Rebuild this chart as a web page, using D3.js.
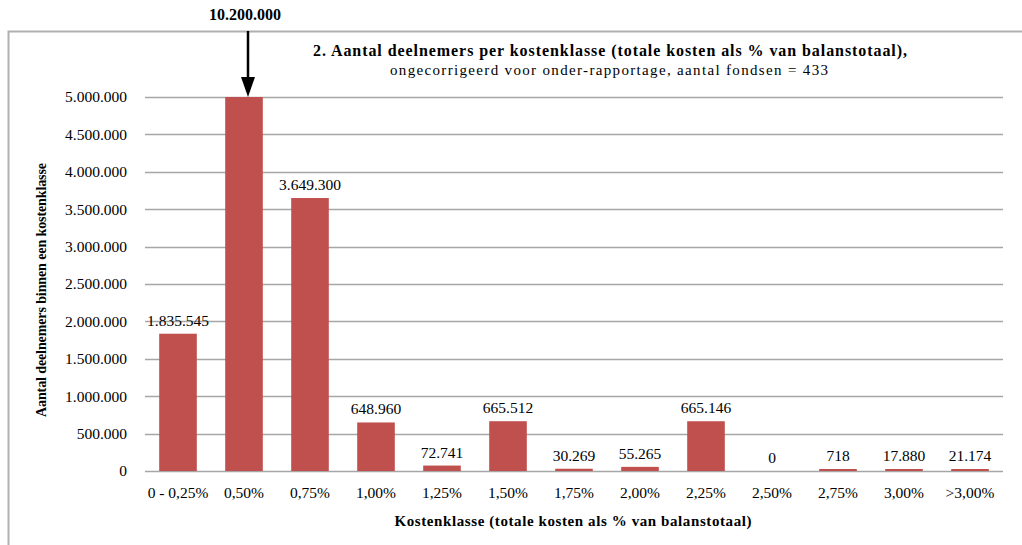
<!DOCTYPE html>
<html>
<head>
<meta charset="utf-8">
<script src="https://cdn.jsdelivr.net/npm/d3@7"></script>
<style>
  body { margin: 0; background: #fff; }
</style>
</head>
<body>
<div id="chart"></div>
<script>
// categories and values
const klassen = ['0 - 0,25%', '0,50%', '0,75%', '1,00%', '1,25%', '1,50%', '1,75%', '2,00%', '2,25%', '2,50%', '2,75%', '3,00%', '>3,00%'];
const deelnemers = [1835545, 10200000, 3649300, 648960, 72741, 665512, 30269, 55265, 665146, 0, 718, 17880, 21174];
const yTicks = [0, 500000, 1000000, 1500000, 2000000, 2500000, 3000000, 3500000, 4000000, 4500000, 5000000];
const yMax = 5000000;

const FONT = 'Liberation Serif';
const W = 1022, H = 545;
const margin = {t: 97, r: 19, b: 74, l: 145};
const w = W - margin.l - margin.r;
const h = H - margin.t - margin.b;

const fmt = v => d3.format(',')(v).replace(/,/g, '.');
const rows = klassen.map((k, i) => ({k, v: deelnemers[i]}));

const svg = d3.select('#chart').append('svg')
  .attr('width', W).attr('height', H)
  .style('font-family', FONT);

// outer frame (top + left)
svg.append('path')
  .attr('d', `M8.5,${H} V31.5 H${W}`)
  .attr('fill', 'none').attr('stroke', '#b0b0b0').attr('stroke-width', 2);

const plot = svg.append('g').attr('transform', `translate(${margin.l},${margin.t})`);

const x = d3.scaleBand().domain(klassen).range([0, w]).paddingInner(0.43).paddingOuter(0.215);
const y = d3.scaleLinear().domain([0, yMax]).range([h, 0]);

// gridlines
plot.selectAll('.grid').data(yTicks).join('line')
  .attr('x1', 0).attr('x2', w)
  .attr('y1', d => Math.round(y(d)) + 0.5).attr('y2', d => Math.round(y(d)) + 0.5)
  .attr('stroke', '#a6a6a6').attr('stroke-width', 1.3);

// y axis labels
const yAxis = plot.append('g')
  .call(d3.axisLeft(y).tickValues(yTicks).tickFormat(fmt).tickSize(0).tickPadding(18));
yAxis.select('.domain').remove();
yAxis.attr('font-family', null).attr('font-size', null);
yAxis.selectAll('text').style('font-family', FONT).style('font-size', '15.5px').attr('fill', '#000');

// x axis labels
const xAxis = plot.append('g').attr('transform', `translate(0,${h})`)
  .call(d3.axisBottom(x).tickSize(0).tickPadding(16));
xAxis.select('.domain').remove();
xAxis.attr('font-family', null).attr('font-size', null);
xAxis.selectAll('text').style('font-family', FONT).style('font-size', '15.5px').attr('fill', '#000');

// bars (clipped at axis max)
const barH = d => {
  const v = Math.min(d, yMax);
  const hh = h - y(v);
  return d > 0 ? Math.max(hh, 2) : 0;
};
plot.selectAll('.bar').data(rows).join('rect')
  .attr('x', d => x(d.k))
  .attr('width', x.bandwidth())
  .attr('y', d => h - barH(d.v))
  .attr('height', d => barH(d.v))
  .attr('fill', '#c0504d');

// value labels
plot.selectAll('.lbl').data(rows.filter(d => d.v <= yMax)).join('text')
  .attr('x', d => x(d.k) + x.bandwidth() / 2)
  .attr('y', d => h - barH(d.v) - 8)
  .attr('text-anchor', 'middle')
  .style('font-size', '15.5px')
  .text(d => fmt(d.v));

// arrow for the clipped bar
const big = rows.find(d => d.v > yMax);
const ax = margin.l + x(big.k) + x.bandwidth() / 2 + 4;
svg.append('line')
  .attr('x1', ax).attr('x2', ax)
  .attr('y1', 31).attr('y2', margin.t - 18)
  .attr('stroke', '#000').attr('stroke-width', 2.5);
svg.append('path')
  .attr('d', `M${ax - 7},${margin.t - 20} L${ax + 7},${margin.t - 20} L${ax},${margin.t} Z`)
  .attr('fill', '#000');
svg.append('text')
  .attr('x', ax - 3).attr('y', 20)
  .attr('text-anchor', 'middle').attr('font-weight', 'bold').style('font-size', '16px')
  .text(fmt(big.v));

// title
svg.append('text')
  .attr('x', 610).attr('y', 56)
  .attr('text-anchor', 'middle').attr('font-weight', 'bold').style('font-size', '16px')
  .attr('textLength', 594).attr('lengthAdjust', 'spacing')
  .text('2. Aantal deelnemers per kostenklasse (totale kosten als % van balanstotaal),');
svg.append('text')
  .attr('x', 609).attr('y', 75)
  .attr('text-anchor', 'middle').style('font-size', '15px')
  .attr('textLength', 438).attr('lengthAdjust', 'spacing')
  .text('ongecorrigeerd voor onder-rapportage, aantal fondsen = 433');

// axis titles
svg.append('text')
  .attr('transform', 'translate(46,290) rotate(-90)')
  .attr('text-anchor', 'middle').attr('font-weight', 'bold').style('font-size', '14px')
  .attr('textLength', 254).attr('lengthAdjust', 'spacing')
  .text('Aantal deelnemers binnen een kostenklasse');
svg.append('text')
  .attr('x', 573).attr('y', 526)
  .attr('text-anchor', 'middle').attr('font-weight', 'bold').style('font-size', '15px')
  .attr('textLength', 357).attr('lengthAdjust', 'spacing')
  .text('Kostenklasse (totale kosten als % van balanstotaal)');
</script>
</body>
</html>
